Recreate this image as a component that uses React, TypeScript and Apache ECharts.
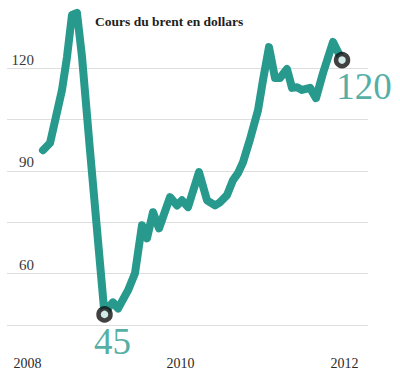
import React, { useEffect, useRef } from "react";
import * as echarts from "echarts";

// Dates as decimal years, Brent price in dollars
const dates = [
  2008.014, 2008.116, 2008.289, 2008.361, 2008.433, 2008.505, 2008.578, 2008.693,
  2008.903, 2008.982, 2009.025, 2009.098, 2009.242, 2009.343, 2009.444, 2009.516,
  2009.603, 2009.69, 2009.849, 2009.95, 2010.022, 2010.109, 2010.267, 2010.383,
  2010.499, 2010.571, 2010.672, 2010.759, 2010.831, 2010.903, 2011.004, 2011.12,
  2011.192, 2011.278, 2011.365, 2011.437, 2011.538, 2011.611, 2011.683, 2011.755,
  2011.871, 2011.957, 2012.058, 2012.203, 2012.333,
];
const prices = [
  96.0, 98.1, 113.6, 123.2, 135.5, 136.1, 123.2, 96.0,
  48.1, 50.7, 51.6, 49.8, 55.1, 60.1, 74.1, 70.3,
  77.9, 73.2, 82.3, 79.9, 81.4, 79.4, 89.6, 81.4,
  79.9, 80.8, 82.9, 87.3, 89.3, 92.5, 99.2, 107.7,
  116.5, 126.1, 117.1, 117.1, 119.7, 114.2, 114.4, 113.6,
  114.2, 111.2, 118.5, 127.6, 122.3,
];
const yearLabelPositions = [2007.79, 2010, 2012.369];
const yLabels = [60, 90, 120];
const highlightIdx = [8, 44];
const highlightText = ["45", "120"];
const title = "Cours du brent en dollars";

const TEAL = "#27998d";
const SERIF = "'Liberation Serif', 'DejaVu Serif', serif";

export default function App() {
  const ref = useRef<HTMLDivElement>(null);
  useEffect(() => {
    if (!ref.current) return;
    const chart = echarts.init(ref.current, undefined, { renderer: "svg" });
    const lineData = dates.map((d, i) => [d, prices[i]]);
    const markData = highlightIdx.map((idx, k) => ({
      value: [dates[idx], prices[idx]],
      label: {
        show: true,
        formatter: highlightText[k],
        position: "inside",
        offset: k === 0 ? [8, 27] : [22, 26],
        color: TEAL,
        fontFamily: SERIF,
        fontSize: 37,
        align: "center",
        verticalAlign: "middle",
      },
    }));
    chart.setOption({
      animation: false,
      title: {
        text: title,
        left: 90,
        top: 9,
        textStyle: { fontFamily: SERIF, fontSize: 13.5, fontWeight: "bold", color: "#1e1e1e" },
      },
      grid: { left: 7, right: 32, top: 16.6, bottom: 52 },
      xAxis: {
        type: "value",
        min: 2007.4945,
        max: 2012.708,
        axisLine: { show: false },
        axisTick: { show: false },
        splitLine: { show: false },
        axisLabel: {
          customValues: yearLabelPositions,
          formatter: (v: number) => String(Math.round(v)),
          margin: 31,
          fontFamily: SERIF,
          fontSize: 14,
          color: "#2a2a2a",
          showMinLabel: true,
          showMaxLabel: true,
        },
      },
      yAxis: {
        type: "value",
        min: 45,
        max: 135,
        interval: 15,
        axisLine: { show: false },
        axisTick: { show: false },
        splitLine: { show: true, showMaxLine: false, lineStyle: { color: "#dedede", width: 1.2 } },
        axisLabel: {
          inside: true,
          align: "right",
          verticalAlign: "bottom",
          margin: 27,
          padding: [0, 0, 1, 0],
          fontFamily: SERIF,
          fontSize: 15,
          color: "#3a3a3a",
          formatter: (v: number) => (yLabels.includes(v) ? String(v) : ""),
        },
      },
      series: [
        {
          type: "line",
          data: lineData,
          showSymbol: false,
          clip: false,
          lineStyle: { color: TEAL, width: 8, cap: "round", join: "round" },
          z: 2,
        },
        {
          type: "scatter",
          data: markData,
          symbol: "circle",
          symbolSize: 12,
          clip: false,
          itemStyle: { color: "#ffffff", borderColor: "#111111", borderWidth: 4.5 },
          z: 3,
        },
      ],
    });
    return () => chart.dispose();
  }, []);
  return (
    <div
      ref={ref}
      style={{ position: "absolute", left: 0, top: 0, width: 400, height: 377, background: "#fff" }}
    />
  );
}
